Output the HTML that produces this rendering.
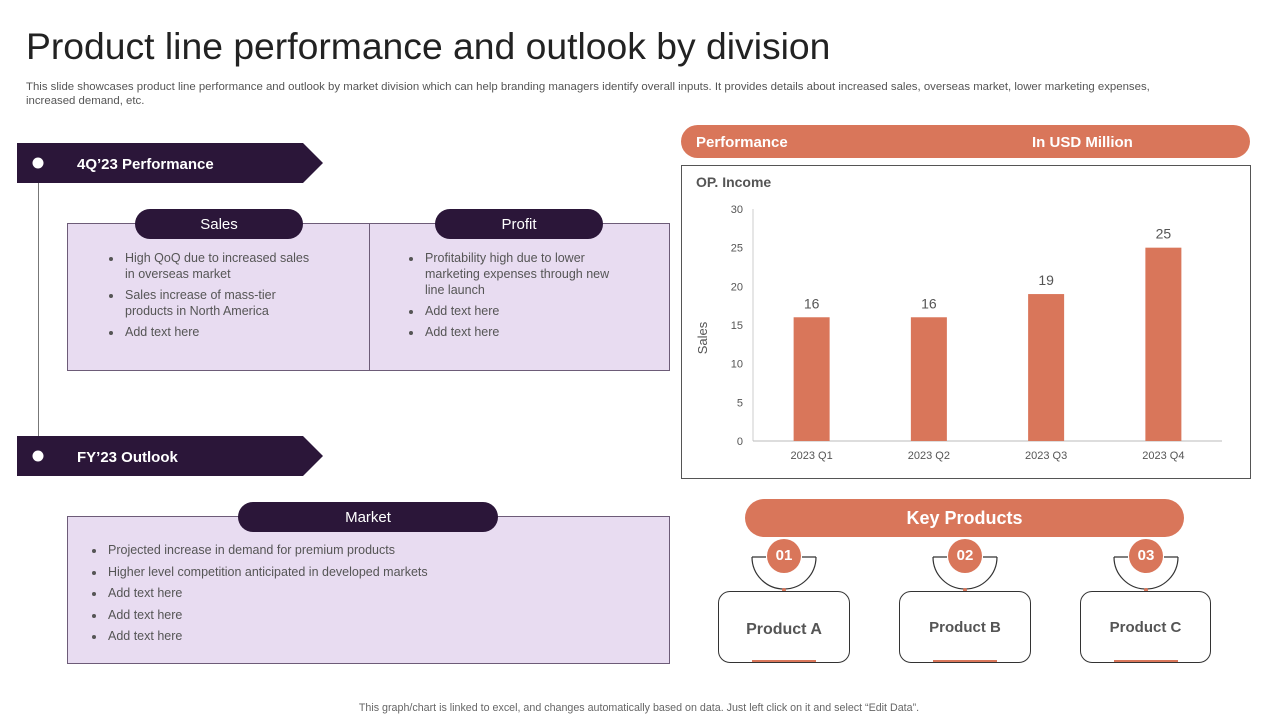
<!DOCTYPE html>
<html><head><meta charset="utf-8"><style>
body{margin:0;width:1280px;height:720px;background:#fff;font-family:"Liberation Sans",Arial,sans-serif;position:relative;overflow:hidden}
.a{position:absolute}
.box{background:#e8dcf1;border:1px solid #6d5c78;box-sizing:border-box}
.pill{background:#2b1639;color:#fff;border-radius:16px;text-align:center;font-size:15px}
ul{margin:0;padding-left:18px;color:#555;font-size:12.5px;line-height:16px}
li{margin-bottom:5px;padding-left:2px}
.prod{border:1px solid #333;border-radius:12px;box-sizing:border-box;text-align:center;font-weight:bold;color:#555;font-size:16px}
.num{background:#d9765a;color:#fff;border-radius:50%;width:34px;height:34px;line-height:34px;text-align:center;font-weight:bold;font-size:15px}
</style></head><body>
<div class="a" style="left:26px;top:25px;font-size:37.3px;color:#222">Product line performance and outlook by division</div>
<div class="a" style="left:26px;top:80px;width:1172px;font-size:11.4px;color:#555;line-height:14px">This slide showcases product line performance and outlook by market division which can help branding managers identify overall inputs. It provides details about increased sales, overseas market, lower marketing expenses, increased demand, etc.</div>

<div class="a" style="left:38px;top:163px;width:1px;height:293px;background:#777"></div>
<svg class="a" style="left:17px;top:143px" width="306" height="40"><polygon points="0,0 286,0 306,20 286,40 0,40" fill="#2b1639"/><circle cx="21" cy="20" r="5.5" fill="#fff"/><text x="60" y="26" fill="#fff" font-size="15" font-weight="bold" font-family="Liberation Sans">4Q’23 Performance</text></svg>
<svg class="a" style="left:17px;top:436px" width="306" height="40"><polygon points="0,0 286,0 306,20 286,40 0,40" fill="#2b1639"/><circle cx="21" cy="20" r="5.5" fill="#fff"/><text x="60" y="26" fill="#fff" font-size="15" font-weight="bold" font-family="Liberation Sans">FY’23 Outlook</text></svg>

<div class="a box" style="left:67px;top:223px;width:303px;height:148px"></div>
<div class="a box" style="left:369px;top:223px;width:301px;height:148px"></div>
<div class="a pill" style="left:135px;top:209px;width:168px;height:30px;line-height:31px">Sales</div>
<div class="a pill" style="left:435px;top:209px;width:168px;height:30px;line-height:31px">Profit</div>
<div class="a" style="left:105px;top:250px;width:212px"><ul><li>High QoQ due to increased sales in overseas market</li><li>Sales increase of mass-tier products in North America</li><li>Add text here</li></ul></div>
<div class="a" style="left:405px;top:250px;width:218px"><ul><li>Profitability high due to lower marketing expenses through new line launch</li><li>Add text here</li><li>Add text here</li></ul></div>

<div class="a box" style="left:67px;top:516px;width:603px;height:148px"></div>
<div class="a pill" style="left:238px;top:502px;width:260px;height:30px;line-height:31px">Market</div>
<div class="a" style="left:88px;top:542px;width:500px"><ul style="line-height:16.5px"><li>Projected increase in demand for premium products</li><li>Higher level competition anticipated in developed  markets</li><li>Add text here</li><li>Add text here</li><li>Add text here</li></ul></div>

<div class="a" style="left:681px;top:125px;width:569px;height:33px;background:#d9765a;border-radius:17px;color:#fff;font-weight:bold;font-size:15px;line-height:36px"><span style="position:absolute;left:15px">Performance</span><span style="position:absolute;left:351px">In USD Million</span></div>
<div class="a" style="left:681px;top:165px;width:570px;height:314px;border:1px solid #555;box-sizing:border-box"></div>
<div class="a" style="left:696px;top:174px;font-size:14px;font-weight:bold;color:#555">OP. Income</div>
<svg id="chart" class="a" style="left:0;top:0" width="1280" height="720"></svg>

<div class="a" style="left:745px;top:499px;width:439px;height:38px;background:#d9765a;border-radius:19px;color:#fff;font-weight:bold;font-size:18px;text-align:center;line-height:38px">Key Products</div>
<svg class="a" style="left:0;top:0" width="1280" height="720">
<g fill="none" stroke="#333" stroke-width="1.2">
<path d="M752,557 A32,32 0 0 0 816,557 M752,557 H766 M816,557 H802"/>
<path d="M933,557 A32,32 0 0 0 997,557 M933,557 H947 M997,557 H983"/>
<path d="M1114,557 A32,32 0 0 0 1178,557 M1114,557 H1128 M1178,557 H1164"/>
</g>
<g fill="#d9765a"><circle cx="784" cy="590" r="2"/><circle cx="965" cy="590" r="2"/><circle cx="1146" cy="590" r="2"/>
<rect x="752" y="660" width="64" height="3"/><rect x="933" y="660" width="64" height="3"/><rect x="1114" y="660" width="64" height="3"/></g>
</svg>
<div class="a num" style="left:767px;top:539px">01</div>
<div class="a num" style="left:948px;top:539px">02</div>
<div class="a num" style="left:1129px;top:539px">03</div>
<div class="a prod" style="left:718px;top:591px;width:132px;height:72px;line-height:76px">Product A</div>
<div class="a prod" style="left:899px;top:591px;width:132px;height:72px;line-height:72px;font-size:15px">Product B</div>
<div class="a prod" style="left:1080px;top:591px;width:131px;height:72px;line-height:72px;font-size:15px">Product C</div>

<div class="a" style="left:0;width:1278px;top:702px;text-align:center;font-size:10.7px;color:#666">This graph/chart is linked to excel, and changes automatically based on data. Just left click on it and select “Edit Data”.</div>

<script>
const categories=["2023 Q1","2023 Q2","2023 Q3","2023 Q4"];
const values=[16,16,19,25];
const yTicks=[0,5,10,15,20,25,30];
const svg=document.getElementById('chart');
const NS='http://www.w3.org/2000/svg';
const x0=753,x1=1222,yBase=441,yTop=209,yMax=30;
const y=v=>yBase-(yBase-yTop)*v/yMax;
const band=(x1-x0)/categories.length;
const xc=i=>x0+band*(i+0.5);
function mk(t,a,txt){const e=document.createElementNS(NS,t);for(const k in a)e.setAttribute(k,a[k]);if(txt!==undefined)e.textContent=txt;svg.appendChild(e);return e;}
let ax=mk('line',{x1:x0,y1:yTop,x2:x0,y2:yBase,stroke:'#ccc'});


let bx=mk('line',{x1:x0,y1:yBase,x2:x1,y2:yBase,stroke:'#bbb'});


yTicks.forEach(t=>{const e=mk('text',{x:743,y:y(t)+4,'text-anchor':'end','font-size':11,fill:'#555','font-family':'Liberation Sans'},t);

});
const yt=mk('text',{x:0,y:0,transform:'translate(707,338) rotate(-90)','text-anchor':'middle','font-size':13,fill:'#555','font-family':'Liberation Sans'},'Sales');


categories.forEach((c,i)=>{
 const r=mk('rect',{x:xc(i)-18,y:y(values[i]),width:36,height:yBase-y(values[i]),fill:'#d9765a'});
 
 
 const l=mk('text',{x:xc(i),y:y(values[i])-9,'text-anchor':'middle','font-size':14,fill:'#555','font-family':'Liberation Sans'},values[i]);
 
 
 const xl=mk('text',{x:xc(i),y:459,'text-anchor':'middle','font-size':11,fill:'#555','font-family':'Liberation Sans'},c);
 
 
});
</script>
</body></html>
